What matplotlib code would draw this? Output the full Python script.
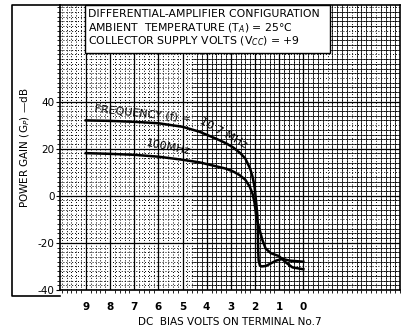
import numpy as np
import matplotlib
matplotlib.use('Agg')
from matplotlib import pyplot as plt
from matplotlib.patches import Rectangle
from matplotlib.lines import Line2D
from matplotlib.ticker import MultipleLocator

# power gain (dB) vs DC bias volts on terminal 7
volts_10m7 = [9.0, 8.0, 7.0, 6.0, 5.0, 4.3, 3.6, 3.2, 2.9, 2.6, 2.4, 2.2, 2.1, 2.02,
              1.95, 1.90, 1.88, 1.87, 1.85, 1.80, 1.73, 1.55, 1.40, 1.12, 0.86, 0.58, 0.0]
gain_10m7 = [32.0, 31.8, 31.4, 30.8, 29.3, 27.2, 24.2, 22.3, 20.5, 18.0, 15.8, 11.5, 8.0, 3.9,
             -3.0, -8.5, -16.6, -23.0, -27.5, -29.5, -30.0, -29.8, -29.0, -27.5, -26.8, -27.5, -28.0]

volts_100m = [9.0, 8.0, 7.0, 6.0, 5.0, 4.3, 3.6, 3.2, 2.9, 2.64, 2.4, 2.22, 2.1, 2.02,
              1.94, 1.83, 1.70, 1.56, 1.34, 1.01, 0.7, 0.45, 0.0]
gain_100m = [18.1, 17.8, 17.4, 16.6, 15.3, 14.2, 12.5, 11.5, 10.3, 8.8, 6.8, 3.9, 0.8, -3.0,
             -9.2, -13.7, -18.6, -22.4, -24.4, -25.6, -28.5, -30.4, -31.2]

xticks = [9, 8, 7, 6, 5, 4, 3, 2, 1, 0]
yticks = [40, 20, 0, -20, -40]

header = ['DIFFERENTIAL-AMPLIFIER CONFIGURATION',
          'AMBIENT  TEMPERATURE (T$_A$) = 25°C',
          'COLLECTOR SUPPLY VOLTS (V$_{CC}$) = +9']

#--------------------------------------------------------------------------------------------
W, H = 401, 330
fig = plt.figure(figsize=(W/100, H/100), dpi=100)
ax = fig.add_axes([60/W, 1-290/H, 340/W, 285/H])
ax.set_xlim(10.07, -4.0)
ax.set_ylim(-40, 81)

ax.xaxis.set_major_locator(MultipleLocator(1))
ax.xaxis.set_minor_locator(MultipleLocator(0.2))
ax.yaxis.set_major_locator(MultipleLocator(10))
ax.yaxis.set_minor_locator(MultipleLocator(2))
ax.grid(which='major', color='k', lw=0.9)
ax.grid(which='minor', color='k', lw=0.7, ls=(0, (1, 2)))
ax.set_axisbelow(True)

# graph paper prints darker on the right-hand part
xmin_solid = 4.6
for x in ax.xaxis.get_minorticklocs():
  if x <= xmin_solid:
    ax.axvline(x, color='0.15', lw=0.6, zorder=0.5)
for y in ax.yaxis.get_minorticklocs():
  ax.plot([xmin_solid, -4.0], [y, y], color='0.15', lw=0.6, zorder=0.5)

ax.set_xticks(xticks)
ax.set_xticklabels([str(t) for t in xticks], fontsize=7.5, fontweight='bold')
ax.set_yticks(yticks)
ax.set_yticklabels([str(t) for t in yticks], fontsize=7.5)
ax.tick_params(axis='x', length=0, pad=9)
ax.tick_params(axis='y', length=3, width=0.8, pad=1)
for s in ax.spines.values():
  s.set_linewidth(1.2)

ax.plot(volts_10m7, gain_10m7, color='k', lw=1.8, zorder=4)
ax.plot(volts_100m, gain_100m, color='k', lw=1.8, zorder=4)

ax.text(6.64, 35.0, 'FREQUENCY (f) =', fontsize=8, rotation=-6, ha='center', va='center',
        rotation_mode='anchor', zorder=5)
ax.text(3.30, 26.5, '10.7 MHz', fontsize=8, rotation=-29, ha='center', va='center',
        rotation_mode='anchor', zorder=5)
ax.text(5.57, 20.6, '100MHz', fontsize=8, rotation=-11, ha='center', va='center',
        rotation_mode='anchor', zorder=5)

ax.add_patch(Rectangle((0.0735, 0.8316), 0.7205, 0.17, transform=ax.transAxes,
                       fc='white', ec='k', lw=1.0, zorder=3, clip_on=False))
for yy, line in zip([0.968, 0.9175, 0.872], header):
  ax.text(0.082, yy, line, transform=ax.transAxes, fontsize=7.8, ha='left', va='center', zorder=5)

ax.set_xlabel('DC  BIAS VOLTS ON TERMINAL No.7', fontsize=7.5)
ax.xaxis.set_label_coords(0.5, -0.093)
ax.xaxis.label.set_va('top')
ax.set_ylabel('POWER GAIN (G$_P$) —dB', fontsize=7.5)
ax.yaxis.set_label_coords(-0.082, 0.5)

# outer frame around the y label
fx = np.array([60, 12, 12, 60]) / W
fy = 1 - np.array([296, 296, 5, 5]) / H
fig.add_artist(Line2D(fx, fy, color='k', lw=1.2, transform=fig.transFigure))

plt.savefig('out.png', dpi=100)
